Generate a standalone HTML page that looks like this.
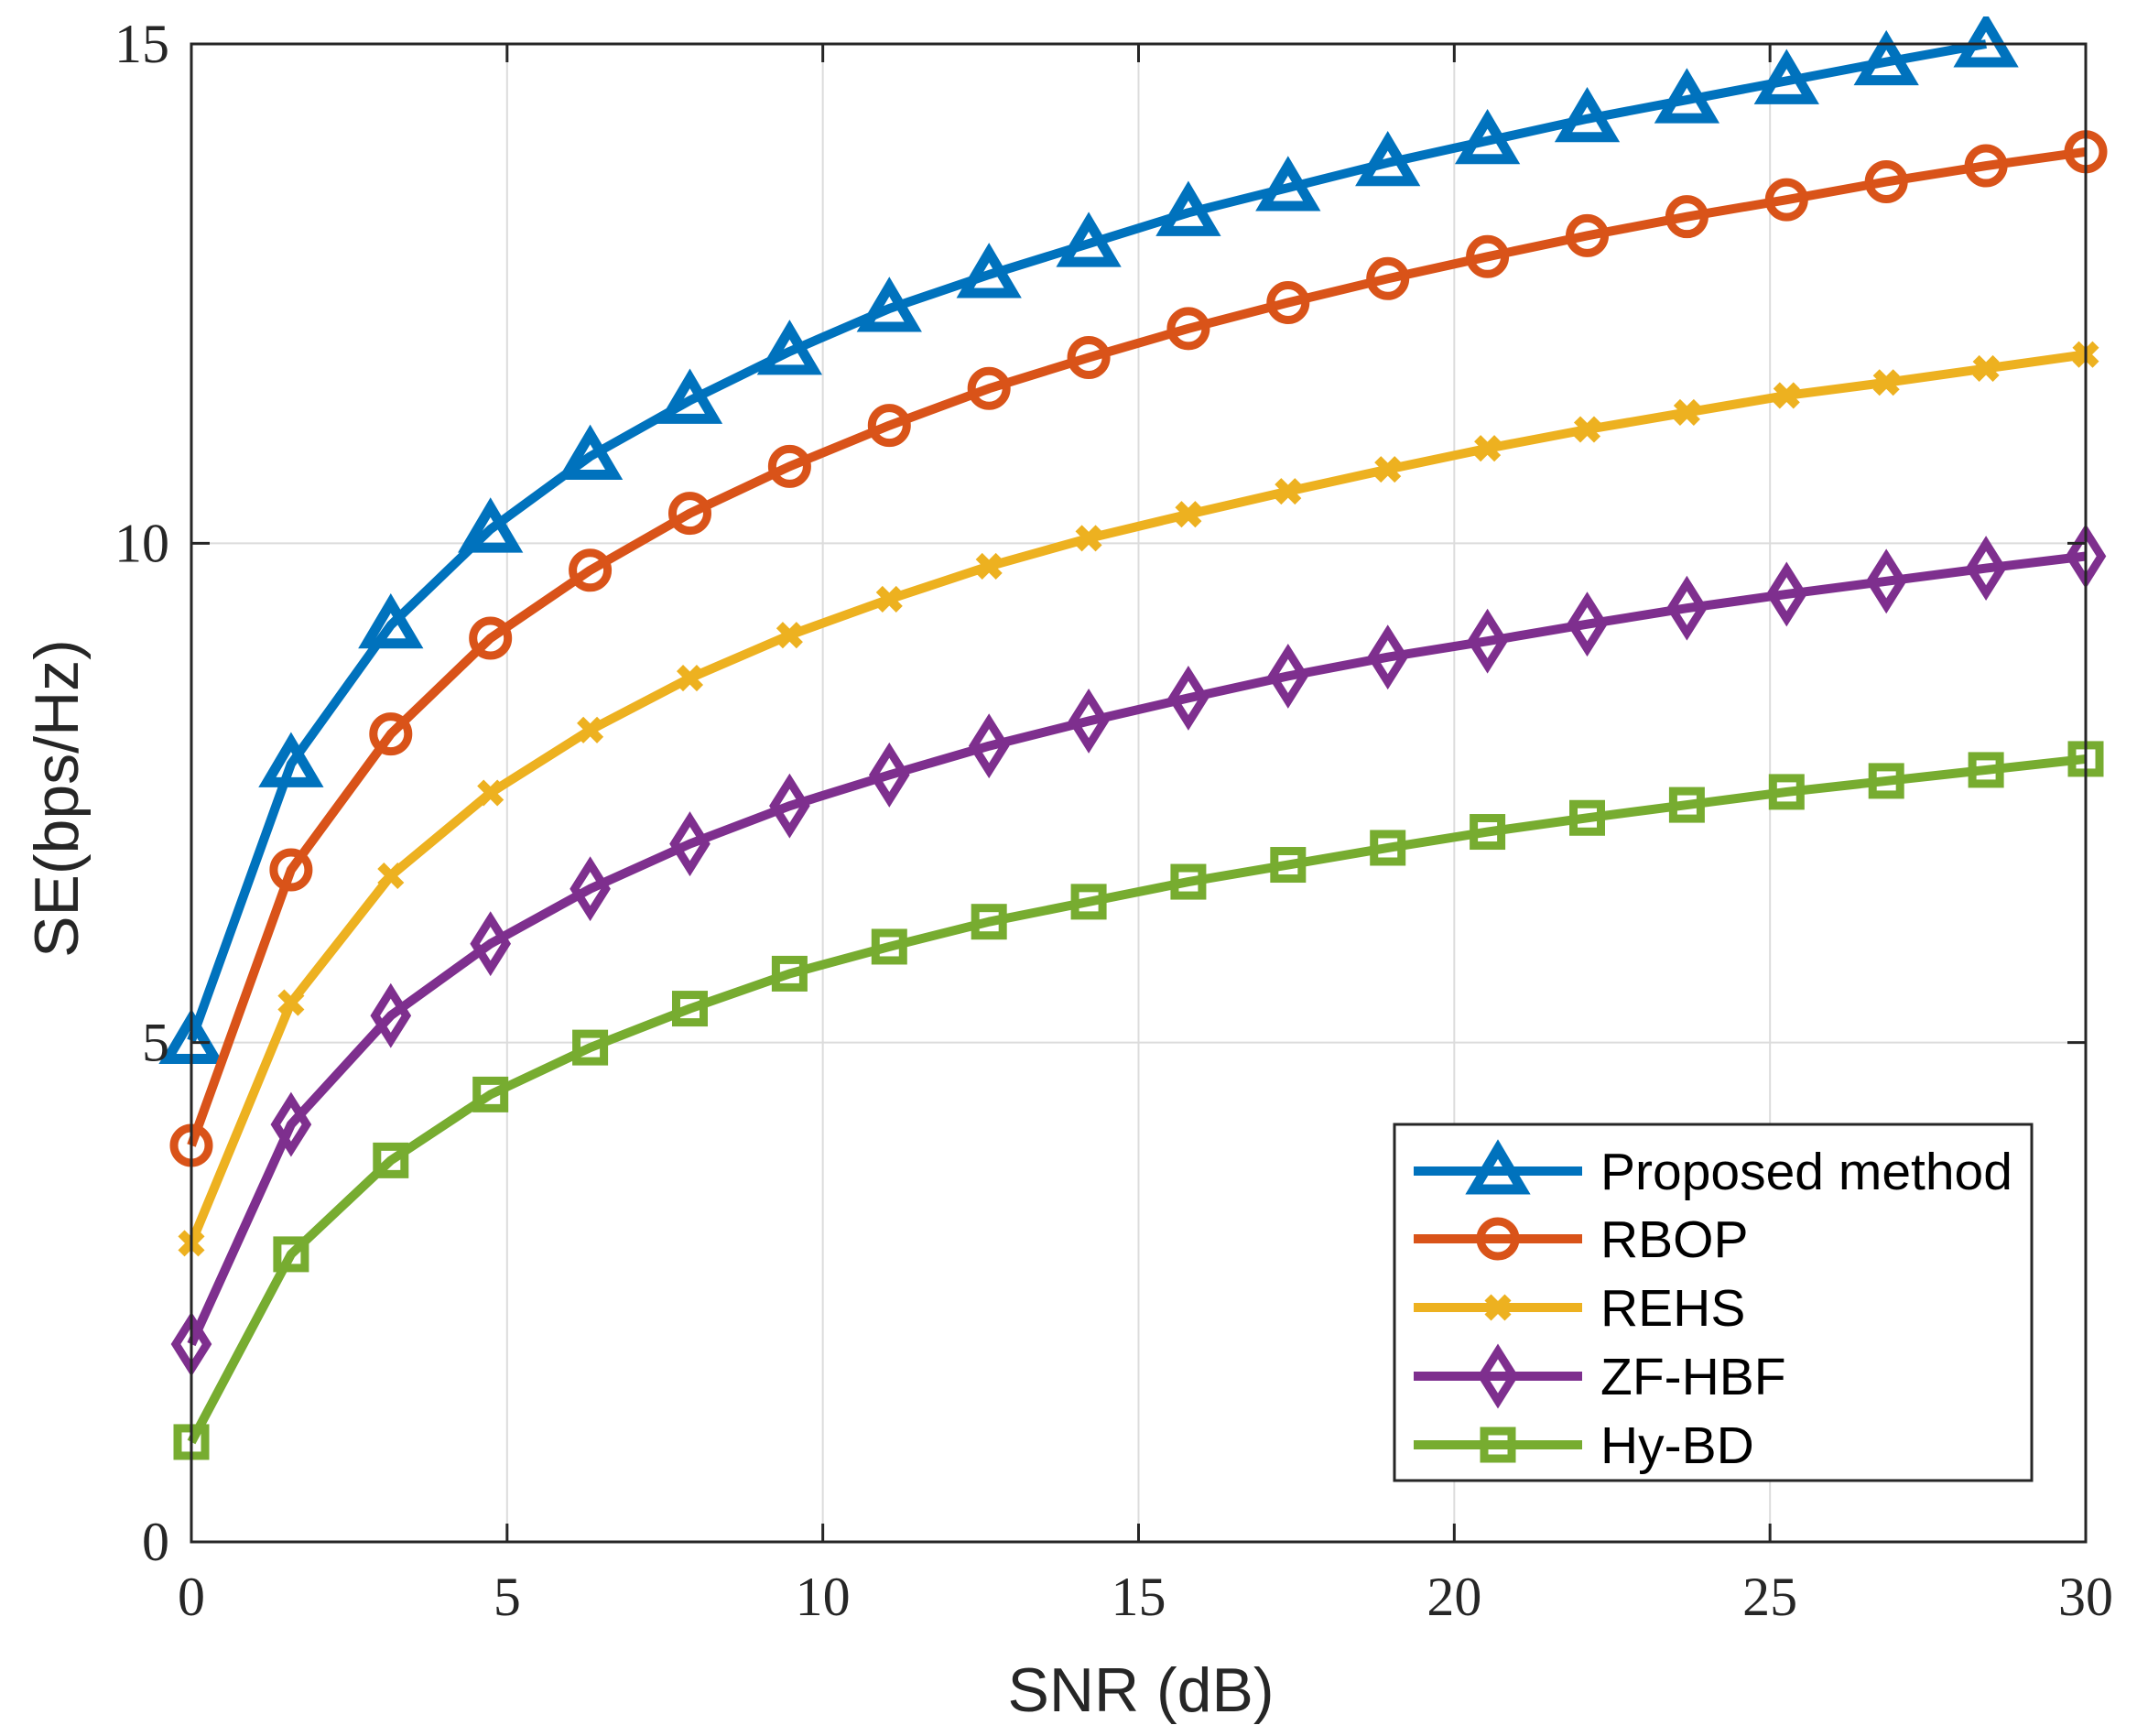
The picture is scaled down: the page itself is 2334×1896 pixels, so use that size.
<!DOCTYPE html>
<html><head><meta charset="utf-8"><style>
html,body{margin:0;padding:0;background:#fff;}
svg{display:block;}
</style></head><body>
<svg id="chart" xmlns="http://www.w3.org/2000/svg" width="2334" height="1896" viewBox="0 0 2334 1896">
<rect width="2334" height="1896" fill="#fff"/>
<g id="grid"></g>
<g id="series"></g>
<rect x="209" y="48" width="2069" height="1636" fill="none" stroke="#262626" stroke-width="3"/>
<g id="ticks"></g>
<text x="1246" y="1869" text-anchor="middle" font-family="Liberation Sans, sans-serif" font-size="68" fill="#262626">SNR (dB)</text>
<text transform="translate(85,872) rotate(-90)" text-anchor="middle" font-family="Liberation Sans, sans-serif" font-size="68" fill="#262626">SE(bps/Hz)</text>
<g id="legend"></g>
</svg>
<script>
const snr = [0,1.579,3.158,4.737,6.316,7.895,9.474,11.053,12.632,14.211,15.789,17.368,18.947,20.526,22.105,23.684,25.263,26.842,28.421,30];
const proposed = [5.02,7.79,9.18,10.14,10.87,11.43,11.92,12.35,12.69,13.00,13.31,13.56,13.81,14.03,14.25,14.44,14.63,14.82,15.00,15.17];
const rbop = [3.97,6.73,8.09,9.05,9.73,10.30,10.77,11.18,11.55,11.86,12.15,12.41,12.65,12.87,13.08,13.27,13.44,13.62,13.78,13.92];
const rehs = [2.99,5.40,6.67,7.50,8.13,8.65,9.08,9.44,9.77,10.05,10.29,10.52,10.74,10.95,11.14,11.31,11.48,11.61,11.75,11.89];
const zfhbf = [1.98,4.18,5.27,5.99,6.54,6.99,7.37,7.68,7.97,8.22,8.45,8.67,8.86,9.02,9.19,9.35,9.49,9.62,9.75,9.87];
const hybd = [1.00,2.88,3.82,4.48,4.95,5.34,5.69,5.96,6.21,6.41,6.61,6.78,6.95,7.11,7.25,7.38,7.51,7.62,7.73,7.84];
const xTicks = [0,5,10,15,20,25,30];
const yTicks = [0,5,10,15];
const seriesNames = ["Proposed method","RBOP","REHS","ZF-HBF","Hy-BD"];

const NS="http://www.w3.org/2000/svg";
const L=209,R=2278,T=48,B=1684;
const xs=v=>L+(v-0)/30*(R-L);
const ys=v=>B-(v-0)/15*(B-T);
function el(tag,attrs,parent){const e=document.createElementNS(NS,tag);for(const k in attrs)e.setAttribute(k,attrs[k]);parent.appendChild(e);return e;}
const grid=document.getElementById('grid'),ticks=document.getElementById('ticks'),sg=document.getElementById('series'),lg=document.getElementById('legend');
xTicks.forEach(t=>{
  const x=xs(t);
  if(t>0&&t<30){const g=el('line',{x1:x,x2:x,y1:T,y2:B,stroke:'#dcdcdc','stroke-width':2},grid);
  
  }
  const a=el('line',{x1:x,x2:x,y1:B,y2:B-20,stroke:'#262626','stroke-width':3},ticks);
  
  
  const b=el('line',{x1:x,x2:x,y1:T,y2:T+20,stroke:'#262626','stroke-width':3},ticks);
  
  
  const tx=el('text',{x:x,y:1764,'text-anchor':'middle','font-family':'Liberation Serif, serif','font-size':60,fill:'#262626'},ticks);
  tx.textContent=t;
  
  
});
yTicks.forEach(t=>{
  const y=ys(t);
  if(t>0&&t<15){const g=el('line',{x1:L,x2:R,y1:y,y2:y,stroke:'#dcdcdc','stroke-width':2},grid);
  
  }
  const a=el('line',{x1:L,x2:L+20,y1:y,y2:y,stroke:'#262626','stroke-width':3},ticks);
  
  
  const b=el('line',{x1:R,x2:R-20,y1:y,y2:y,stroke:'#262626','stroke-width':3},ticks);
  
  
  const tx=el('text',{x:185,y:y+20,'text-anchor':'end','font-family':'Liberation Serif, serif','font-size':60,fill:'#262626'},ticks);
  tx.textContent=t;
  
  
});
const colors=['#0072bd','#d95319','#edb120','#7e2f8e','#77ac30'];
const markers=['tri','circle','x','diamond','square'];
function marker(type,x,y,c,parent){
  let m;
  if(type==='tri'){m=el('polygon',{points:`${x},${y-24} ${x-26},${y+20} ${x+26},${y+20}`,fill:'none',stroke:c,'stroke-width':11,'stroke-linejoin':'miter'},parent);}
  else if(type==='circle'){m=el('circle',{cx:x,cy:y,r:19,fill:'none',stroke:c,'stroke-width':9},parent);}
  else if(type==='x'){m=el('path',{d:`M${x-11},${y-11}L${x+11},${y+11}M${x-11},${y+11}L${x+11},${y-11}`,stroke:c,'stroke-width':10,fill:'none'},parent);}
  else if(type==='diamond'){m=el('polygon',{points:`${x},${y-27} ${x+17},${y} ${x},${y+27} ${x-17},${y}`,fill:'none',stroke:c,'stroke-width':9},parent);}
  else {m=el('rect',{x:x-15,y:y-15,width:30,height:30,fill:'none',stroke:c,'stroke-width':9},parent);}
  return m;
}
const allData=[proposed,rbop,rehs,zfhbf,hybd];
const clip=el('clipPath',{id:'pc'},document.getElementById('chart'));
el('rect',{x:L-40,y:T-30,width:R-L+80,height:B-T+70},clip);
allData.forEach((d,i)=>{
  const g=el('g',{'clip-path':'url(#pc)'},sg);
  
  
  const pts=d.map((v,j)=>[xs(snr[j]),ys(v)]).filter(p=>p[1]>=T-1);
  const pl=el('polyline',{points:pts.map(p=>p.join(',')).join(' '),fill:'none',stroke:colors[i],'stroke-width':10,'stroke-linejoin':'round'},g);
  
  
  pts.forEach(p=>{const m=marker(markers[i],p[0],p[1],colors[i],g);
    
    });
});
// legend
const box=el('rect',{x:1523,y:1228,width:696,height:389,fill:'#fff',stroke:'#262626','stroke-width':3},lg);


const ly=[1279,1353,1428,1503,1578];
seriesNames.forEach((n,i)=>{
  const g=el('g',{},lg);
  
  
  el('line',{x1:1544,x2:1728,y1:ly[i],y2:ly[i],stroke:colors[i],'stroke-width':10},g);
  marker(markers[i],1636,ly[i],colors[i],g);
  const t=el('text',{x:1748,y:ly[i]+20,'font-family':'Liberation Sans, sans-serif','font-size':57,fill:'#000'},g);
  t.textContent=n;
  
  
});
</script>
</body></html>
